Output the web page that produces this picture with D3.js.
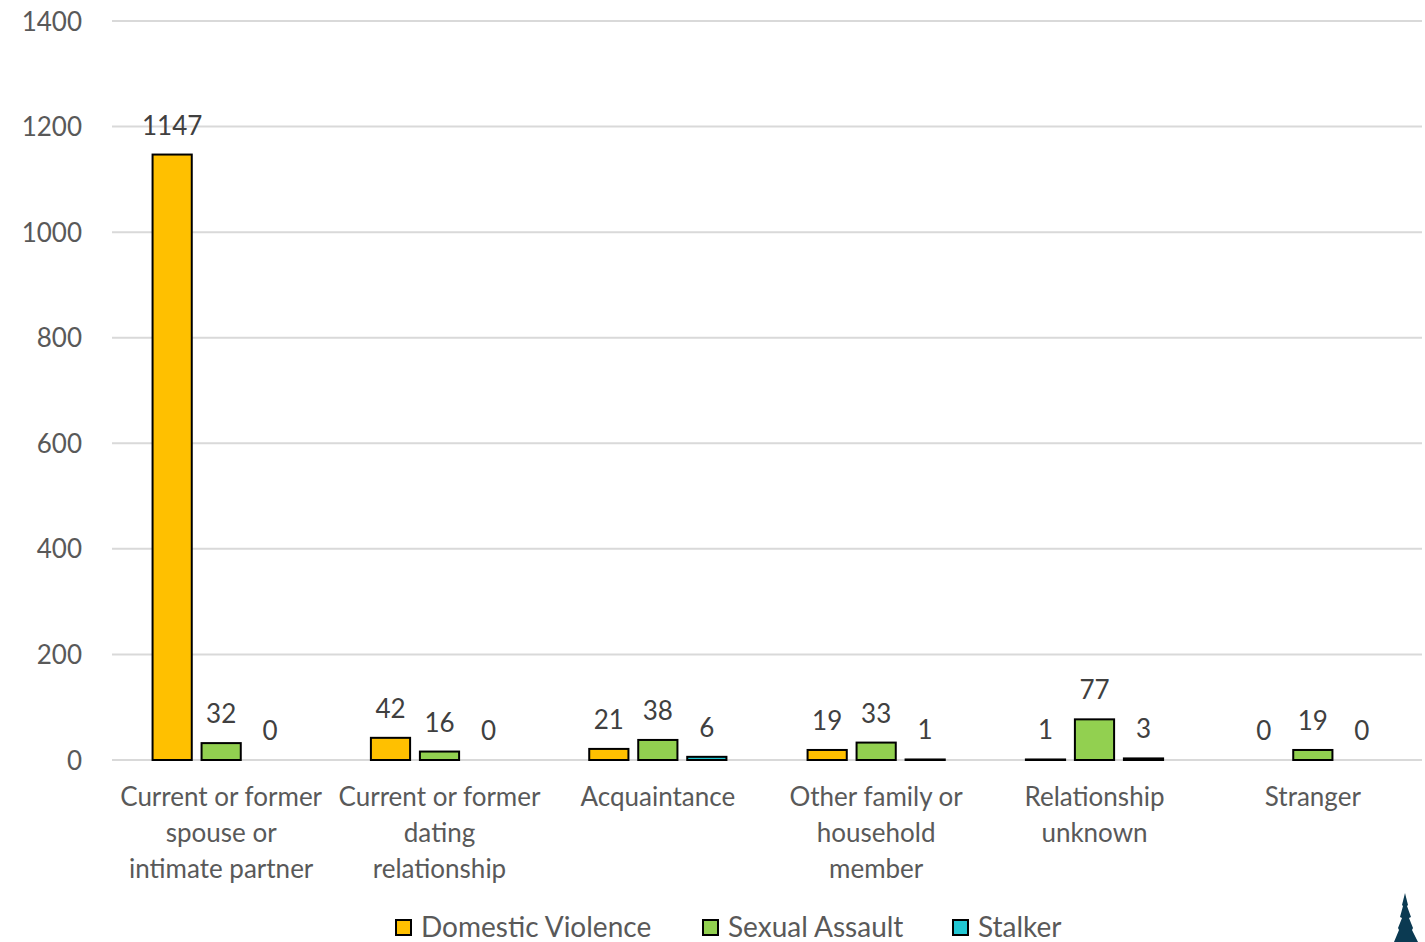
<!DOCTYPE html>
<html>
<head>
<meta charset="utf-8">
<script src="https://cdn.jsdelivr.net/npm/d3@7"></script>
<style>
  body { margin: 0; background: #fff; }
  svg text { font-family: Lato, "Open Sans", sans-serif; }
</style>
</head>
<body>
<div id="chart"></div>
<script>
// chart data
var categories = [
  ["Current or former", "spouse or", "intimate partner"],
  ["Current or former", "dating", "relationship"],
  ["Acquaintance"],
  ["Other family or", "household", "member"],
  ["Relationship", "unknown"],
  ["Stranger"]
];
var seriesNames = ["Domestic Violence", "Sexual Assault", "Stalker"];
var domesticViolence = [1147, 42, 21, 19, 1, 0];
var sexualAssault = [32, 16, 38, 33, 77, 19];
var stalker = [0, 0, 6, 1, 3, 0];
var yTicks = [0, 200, 400, 600, 800, 1000, 1200, 1400];

var colors = ["#FFC000", "#92D050", "#22C7D3"];
var seriesValues = [domesticViolence, sexualAssault, stalker];

var width = 1425, height = 942;
var margin = { top: 21, right: 3, bottom: 182, left: 112 };

var svg = d3.select("#chart")
            .append("svg")
            .attr("width", width)
            .attr("height", height);

var x = d3.scaleBand()
          .domain(d3.range(categories.length))
          .range([margin.left, width - margin.right]);

var xInner = d3.scaleBand()
               .domain(d3.range(seriesNames.length))
               .range([-73.5, 73.5])
               .paddingInner(0.2)
               .paddingOuter(0.1);

var y = d3.scaleLinear()
          .domain([0, 1400])
          .range([height - margin.bottom, margin.top]);

// gridlines
svg.append("g")
   .selectAll("line")
   .data(yTicks)
   .join("line")
   .attr("x1", margin.left)
   .attr("x2", width - margin.right)
   .attr("y1", function(d) { return y(d); })
   .attr("y2", function(d) { return y(d); })
   .attr("stroke", "#D9D9D9")
   .attr("stroke-width", 2);

// y axis labels
var yAxis = svg.append("g")
   .attr("transform", "translate(" + (margin.left - 30) + ",0)")
   .call(d3.axisLeft(y).tickValues(yTicks).tickFormat(d3.format("d")).tickSize(0).tickPadding(0));
yAxis.select(".domain").remove();
yAxis.selectAll("text")
     .attr("fill", "#595959")
     .style("font-size", "26px")
     .attr("dy", "0.35em");

// bars
var rows = [];
categories.forEach(function(c, i) {
  seriesValues.forEach(function(vals, s) {
    rows.push({ cat: i, s: s, value: vals[i] });
  });
});

var bar = svg.append("g")
   .selectAll("g")
   .data(rows)
   .join("g")
   .attr("transform", function(d) {
     return "translate(" + (x(d.cat) + x.bandwidth() / 2 + xInner(d.s)) + ",0)";
   });

bar.filter(function(d) { return d.value > 0; })
   .append("rect")
   .attr("x", 0)
   .attr("width", xInner.bandwidth())
   .attr("y", function(d) { return y(d.value); })
   .attr("height", function(d) { return y(0) - y(d.value); })
   .attr("fill", function(d) { return colors[d.s]; })
   .attr("stroke", "#000")
   .attr("stroke-width", 2);

bar.append("text")
   .attr("x", xInner.bandwidth() / 2)
   .attr("y", function(d) { return y(d.value) - 20; })
   .attr("text-anchor", "middle")
   .attr("fill", "#404040")
   .style("font-size", "26px")
   .text(function(d) { return d.value; });

// category labels
var catLabel = svg.append("g")
   .selectAll("text")
   .data(categories)
   .join("text")
   .attr("x", function(d, i) { return x(i) + x.bandwidth() / 2; })
   .attr("y", y(0) + 46)
   .attr("text-anchor", "middle")
   .attr("fill", "#595959")
   .style("font-size", "26px");
catLabel.selectAll("tspan")
   .data(function(d) { return d; })
   .join("tspan")
   .attr("x", function() { return this.parentNode.getAttribute("x"); })
   .attr("dy", function(d, i) { return i === 0 ? 0 : 36; })
   .text(function(d) { return d; });

// legend
var legendX = [396, 703, 953];
var legend = svg.append("g")
   .selectAll("g")
   .data(seriesNames)
   .join("g")
   .attr("transform", function(d, i) { return "translate(" + legendX[i] + ",920)"; });
legend.append("rect")
   .attr("width", 15)
   .attr("height", 15)
   .attr("fill", function(d, i) { return colors[i]; })
   .attr("stroke", "#000")
   .attr("stroke-width", 2);
legend.append("text")
   .attr("x", 25)
   .attr("y", 17)
   .attr("fill", "#595959")
   .style("font-size", "28px")
   .text(function(d) { return d; });

// little tree logo, bottom right
svg.append("path")
   .attr("d", "M1405,893 L1408,905 L1407,906 L1411,917 L1409,918 L1413,928 L1412,930 L1418,942 L1394,942 L1399,930 L1398,928 L1402,918 L1400,917 L1403,906 L1402,905 Z")
   .attr("fill", "#0B3A52");
</script>
</body>
</html>
